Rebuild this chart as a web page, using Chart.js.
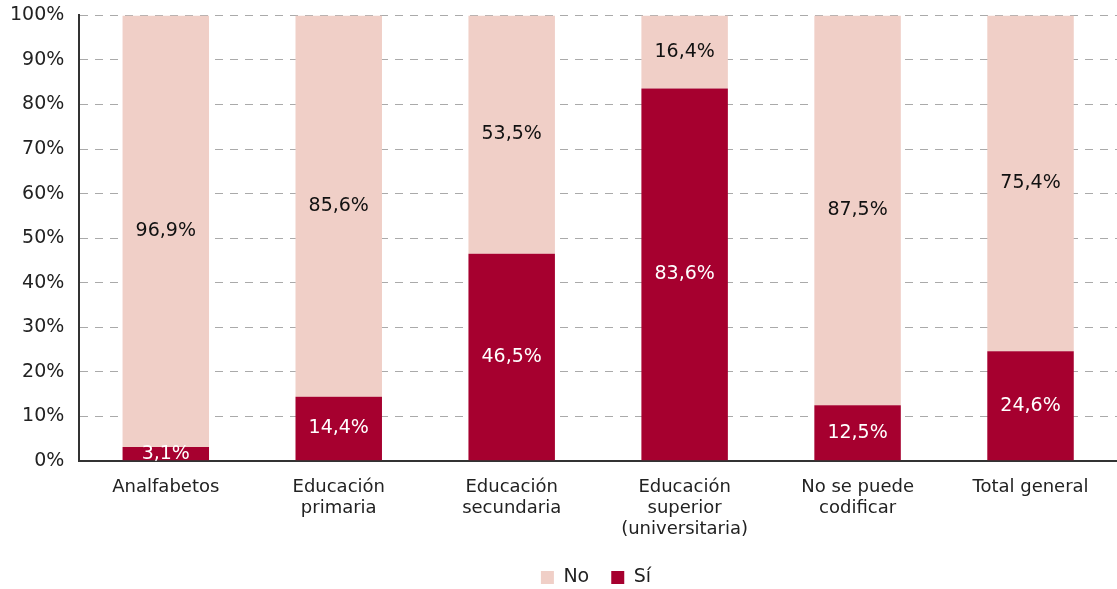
<!DOCTYPE html>
<html>
<head>
<meta charset="utf-8">
<script src="https://cdn.jsdelivr.net/npm/chart.js@4.4.1/dist/chart.umd.min.js"></script>
<style>
  html, body { margin: 0; padding: 0; background: #fff; overflow: hidden; }
  #wrap { width: 1117px; height: 618px; margin-top: -11px; }
</style>
</head>
<body>
<div id="wrap"><canvas id="chart"></canvas></div>
<script>
const categories = [
  'Analfabetos',
  ['Educación', 'primaria'],
  ['Educación', 'secundaria'],
  ['Educación', 'superior', '(universitaria)'],
  ['No se puede', 'codificar'],
  'Total general'
];
const siValues = [3.1, 14.4, 46.5, 83.6, 12.5, 24.6];
const noValues = [96.9, 85.6, 53.5, 16.4, 87.5, 75.4];

const FONT = 'DejaVu Sans, Verdana, sans-serif';

// draw value labels centred inside each segment
const segmentLabels = {
  id: 'segmentLabels',
  afterDatasetsDraw(chart) {
    const ctx = chart.ctx;
    ctx.save();
    ctx.font = '19px ' + FONT;
    ctx.textAlign = 'center';
    ctx.textBaseline = 'middle';
    chart.data.datasets.forEach((ds, i) => {
      const meta = chart.getDatasetMeta(i);
      meta.data.forEach((bar, j) => {
        const mid = (bar.y + bar.base) / 2;
        ctx.fillStyle = ds.labelColor;
        ctx.fillText(ds.data[j].toFixed(1).replace('.', ',') + '%', bar.x, mid);
      });
    });
    ctx.restore();
  }
};

// legend in the original sits a bit right of centre and closer to the labels
const legendShift = {
  id: 'legendShift',
  beforeDraw(chart) {
    if (chart.legend) {
      chart.legend.left += 40;
      chart.legend.right += 40;
      chart.legend.top -= 10;
      chart.legend.bottom -= 10;
    }
  }
};

new Chart(document.getElementById('chart').getContext('2d'), {
  type: 'bar',
  data: {
    labels: categories,
    datasets: [
      { label: 'Sí', data: siValues, backgroundColor: '#A6002F', labelColor: '#ffffff',
        barPercentage: 0.5, categoryPercentage: 1 },
      { label: 'No', data: noValues, backgroundColor: '#F0CFC7', labelColor: '#111111',
        barPercentage: 0.5, categoryPercentage: 1 }
    ]
  },
  options: {
    responsive: true,
    maintainAspectRatio: false,
    animation: false,
    layout: { padding: { top: 0, right: 0, left: -5, bottom: 0 } },
    scales: {
      x: {
        stacked: true,
        grid: { display: false, drawTicks: false },
        border: { display: true, color: '#333', width: 2 },
        ticks: {
          color: '#222', font: { family: FONT, size: 18, lineHeight: 1.17 }, padding: 16,
          maxRotation: 0, autoSkip: false
        }
      },
      y: {
        stacked: true,
        min: 0,
        max: 100,
        grid: { color: '#aaaaaa', lineWidth: 1, drawTicks: false },
        border: { display: true, color: '#333', width: 2, dash: [8, 7] },
        ticks: {
          stepSize: 10, color: '#222', font: { family: FONT, size: 19 }, padding: 15,
          callback: v => v + '%'
        }
      }
    },
    plugins: {
      legend: {
        position: 'bottom',
        reverse: true,
        labels: {
          boxWidth: 13, boxHeight: 13, padding: 22, color: '#222',
          font: { family: FONT, size: 19 }
        }
      },
      tooltip: { enabled: false }
    }
  },
  plugins: [segmentLabels, legendShift]
});
</script>
</body>
</html>
